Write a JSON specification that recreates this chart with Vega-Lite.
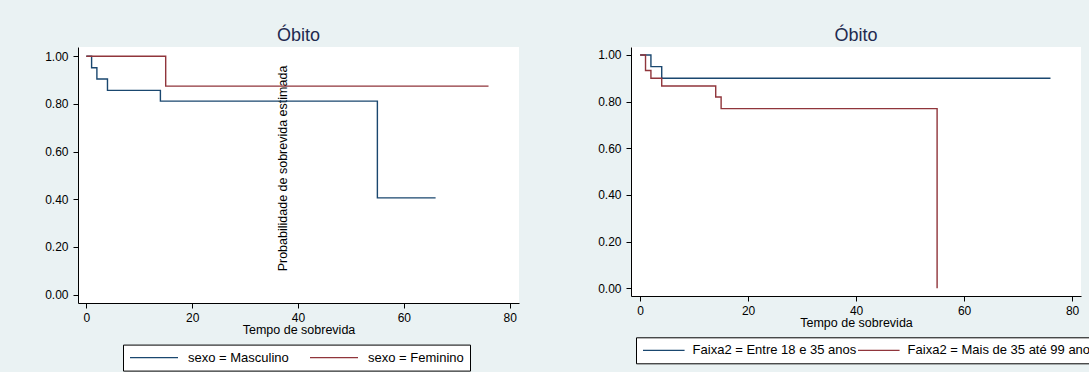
{
  "$schema": "https://vega.github.io/schema/vega-lite/v6.json",
  "background": "#eaf2f3",
  "padding": {"left": 44, "top": 26, "right": 0, "bottom": 0},
  "autosize": {"type": "pad"},
  "spacing": 78,
  "datasets": {
    "sexo": [
      {"grupo": "sexo = Masculino", "tempo": 0, "sobrevida": 1.0},
      {"grupo": "sexo = Masculino", "tempo": 1, "sobrevida": 0.952},
      {"grupo": "sexo = Masculino", "tempo": 2, "sobrevida": 0.905},
      {"grupo": "sexo = Masculino", "tempo": 4, "sobrevida": 0.857},
      {"grupo": "sexo = Masculino", "tempo": 14, "sobrevida": 0.812},
      {"grupo": "sexo = Masculino", "tempo": 55, "sobrevida": 0.406},
      {"grupo": "sexo = Masculino", "tempo": 66, "sobrevida": 0.406},
      {"grupo": "sexo = Feminino", "tempo": 0, "sobrevida": 1.0},
      {"grupo": "sexo = Feminino", "tempo": 15, "sobrevida": 0.875},
      {"grupo": "sexo = Feminino", "tempo": 76, "sobrevida": 0.875}
    ],
    "faixa": [
      {"grupo": "Faixa2 = Entre 18 e 35 anos", "tempo": 0, "sobrevida": 1.0},
      {"grupo": "Faixa2 = Entre 18 e 35 anos", "tempo": 2, "sobrevida": 0.95},
      {"grupo": "Faixa2 = Entre 18 e 35 anos", "tempo": 4, "sobrevida": 0.90},
      {"grupo": "Faixa2 = Entre 18 e 35 anos", "tempo": 76, "sobrevida": 0.90},
      {"grupo": "Faixa2 = Mais de 35 até 99 anos", "tempo": 0, "sobrevida": 1.0},
      {"grupo": "Faixa2 = Mais de 35 até 99 anos", "tempo": 1, "sobrevida": 0.933},
      {"grupo": "Faixa2 = Mais de 35 até 99 anos", "tempo": 2, "sobrevida": 0.90},
      {"grupo": "Faixa2 = Mais de 35 até 99 anos", "tempo": 4, "sobrevida": 0.867},
      {"grupo": "Faixa2 = Mais de 35 até 99 anos", "tempo": 14, "sobrevida": 0.82},
      {"grupo": "Faixa2 = Mais de 35 até 99 anos", "tempo": 15, "sobrevida": 0.77},
      {"grupo": "Faixa2 = Mais de 35 até 99 anos", "tempo": 55, "sobrevida": 0.0}
    ]
  },
  "config": {
    "view": {"fill": "white", "stroke": null},
    "font": "Liberation Sans",
    "axis": {
      "domainColor": "#000", "tickColor": "#000", "labelColor": "#000", "titleColor": "#000",
      "labelFont": "Liberation Sans", "titleFont": "Liberation Sans",
      "labelFontSize": 12, "titleFontSize": 12.5, "titleFontWeight": "normal",
      "tickSize": 5, "grid": false, "domainWidth": 1, "tickWidth": 1
    },
    "title": {"fontSize": 18, "fontWeight": "normal", "color": "#1e2a4f", "font": "Liberation Sans", "anchor": "middle", "offset": 2.5},
    "legend": {
      "title": null, "symbolStrokeWidth": 1.3, "symbolSize": 144,
      "labelFont": "Liberation Sans", "labelFontSize": 13, "labelColor": "#000", "labelLimit": 0,
      "strokeColor": "#000", "fillColor": "white", "padding": 6
    }
  },
  "hconcat": [
    {
      "width": 441, "height": 256,
      "title": {"text": "Óbito"},
      "data": {"name": "sexo"},
      "mark": {"type": "line", "interpolate": "step-after", "strokeWidth": 1.4},
      "encoding": {
        "x": {"field": "tempo", "type": "quantitative",
              "scale": {"domain": [-1.57, 81.76], "nice": false, "zero": false},
              "axis": {"values": [0, 20, 40, 60, 80], "format": "d", "title": "Tempo de sobrevida", "labelPadding": 4, "titlePadding": 0}},
        "y": {"field": "sobrevida", "type": "quantitative",
              "scale": {"domain": [-0.035, 1.039], "nice": false, "zero": false},
              "axis": {"values": [0, 0.2, 0.4, 0.6, 0.8, 1], "format": ".2f", "labelPadding": 5,
                       "title": "Probabilidade de sobrevida estimada",
                       "titleX": 204, "titleY": 121, "titleAngle": 270, "titleAlign": "center", "titleBaseline": "middle"}},
        "color": {"field": "grupo", "type": "nominal",
                  "scale": {"domain": ["sexo = Masculino", "sexo = Feminino"], "range": ["#1a476f", "#90353b"]},
                  "legend": {"orient": "none", "legendX": 45, "legendY": 297.6, "direction": "horizontal", "columns": 2,
                             "symbolType": "M-1,0H7", "labelOffset": 45, "columnPadding": 18}}
      }
    },
    {
      "width": 450, "height": 249,
      "title": {"text": "Óbito"},
      "data": {"name": "faixa"},
      "mark": {"type": "line", "interpolate": "step-after", "strokeWidth": 1.4},
      "encoding": {
        "x": {"field": "tempo", "type": "quantitative",
              "scale": {"domain": [-1.69, 81.65], "nice": false, "zero": false},
              "axis": {"values": [0, 20, 40, 60, 80], "format": "d", "title": "Tempo de sobrevida", "labelPadding": 4, "titlePadding": 0}},
        "y": {"field": "sobrevida", "type": "quantitative",
              "scale": {"domain": [-0.033, 1.034], "nice": false, "zero": false},
              "axis": {"values": [0, 0.2, 0.4, 0.6, 0.8, 1], "format": ".2f", "labelPadding": 5, "title": null}},
        "color": {"field": "grupo", "type": "nominal",
                  "scale": {"domain": ["Faixa2 = Entre 18 e 35 anos", "Faixa2 = Mais de 35 até 99 anos"], "range": ["#1a476f", "#90353b"]},
                  "legend": {"orient": "none", "legendX": 5, "legendY": 290.3, "direction": "horizontal", "columns": 2,
                             "symbolType": "M-1,0H5.93", "labelOffset": 36.6, "columnPadding": -20}}
      }
    }
  ],
  "resolve": {"scale": {"color": "independent"}, "legend": {"color": "independent"}}
}
